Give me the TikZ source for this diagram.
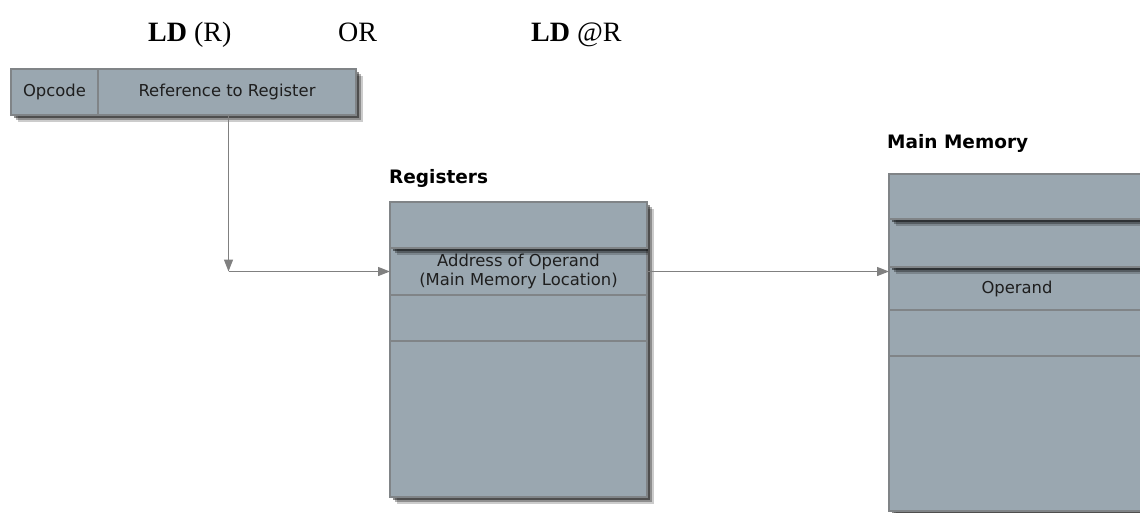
\documentclass[tikz,border=0pt]{standalone}
\usepackage{fontspec}
\setmainfont{Liberation Serif}
\newfontfamily\cellfont{DejaVu Sans}
\usetikzlibrary{shadows,arrows.meta}
\definecolor{cellfill}{RGB}{154,167,176}
\definecolor{cellline}{RGB}{128,132,135}
\definecolor{connline}{RGB}{128,128,128}
\definecolor{celltext}{RGB}{30,30,30}

\tikzset{
  cell/.style={draw=cellline, fill=cellfill, line width=1.2pt, inner sep=0pt,
    outer sep=0pt, anchor=north west, align=center, text=celltext,
    font=\cellfont\fontsize{16.4}{19}\selectfont,
    general shadow={fill=black, opacity=.2, shadow xshift=6.5pt, shadow yshift=-6.5pt},
    general shadow={fill=black, opacity=.3, shadow xshift=4.5pt, shadow yshift=-4.5pt},
    general shadow={fill=black, opacity=.45, shadow xshift=2.8pt, shadow yshift=-2.8pt}},
  conn/.style={draw=connline, line width=1.3pt, -{Triangle[length=12pt,width=9pt]}},
  heading/.style={font=\cellfont\bfseries\fontsize{18.5}{22}\selectfont,
    anchor=base west, inner sep=0pt},
  title/.style={font=\fontsize{28}{34}\selectfont, anchor=base west, inner sep=0pt}
}

\begin{document}
\begin{tikzpicture}[x=1pt, y=-1pt]
  \useasboundingbox (0,0) rectangle (1140,512);
  \clip (0,0) rectangle (1140,512);

  % instruction formats
  \node[title] (fmtA) at (148,41) {\textbf{LD} (R)};
  \node[title] (fmtOr) at (338,41) {OR};
  \node[title] (fmtB) at (531,41) {\textbf{LD} @R};

  % instruction word
  \node[cell, minimum width=87pt, minimum height=46pt] (opcode) at (11,69) {Opcode};
  \node[cell, minimum width=258pt, minimum height=46pt] (ref) at (98,69) {Reference to Register};

  % register file
  \node[heading] (reglabel) at (389,183) {Registers};
  \node[cell, minimum width=257pt, minimum height=47pt] (r2) at (390,248)
    {Address of Operand\\(Main Memory Location)};
  \node[cell, minimum width=257pt, minimum height=46pt] (r3) at (390,295) {};
  \node[cell, minimum width=257pt, minimum height=156pt] (r4) at (390,341) {};
  \node[cell, minimum width=257pt, minimum height=46pt] (r1) at (390,202) {};

  % main memory
  \node[heading] (memlabel) at (887,148) {Main Memory};
  \node[cell, minimum width=256pt, minimum height=43pt] (m3) at (889,267) {Operand};
  \node[cell, minimum width=256pt, minimum height=46pt] (m4) at (889,310) {};
  \node[cell, minimum width=256pt, minimum height=155pt] (m5) at (889,356) {};
  \node[cell, minimum width=256pt, minimum height=48pt] (m2) at (889,219) {};
  \node[cell, minimum width=256pt, minimum height=45pt] (m1) at (889,174) {};

  % connectors
  \coordinate (bend) at ([xshift=1.5pt]ref.south |- r2.west);
  \draw[conn] ([xshift=1.5pt]ref.south) -- (bend);
  \draw[conn] (bend) -- (r2.west);
  \draw[conn] (r2.east) -- (r2.east -| m3.west);
\end{tikzpicture}
\end{document}
